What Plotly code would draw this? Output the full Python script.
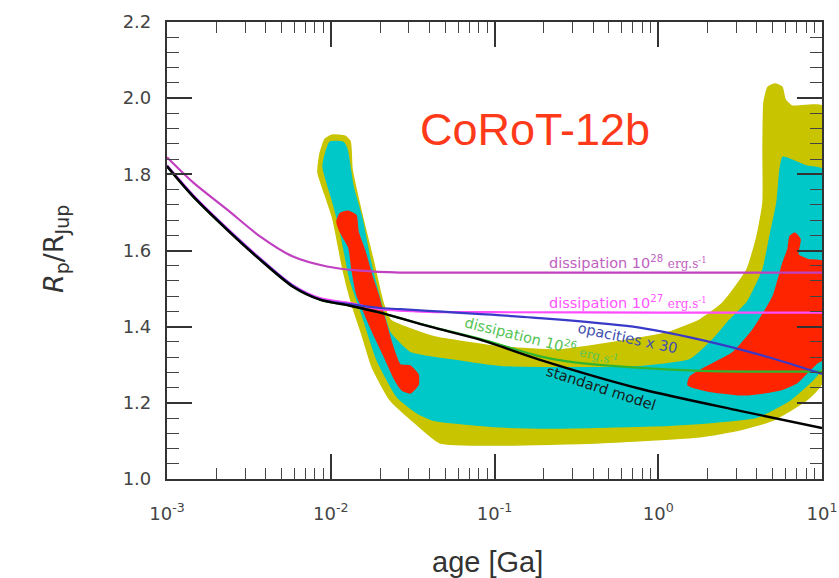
import numpy as np
import plotly.graph_objects as go

# ---------------- data (log10 age [Ga], radius [R_Jup]) ----------------
yellow_logage = [-2.035, -1.992, -1.913, -1.882, -1.870, -1.803, -1.742, -1.681, -1.638, -1.376,
                 -0.966, -0.600, -0.356, 0.053, 0.255, 0.395, 0.542, 0.603, 0.640, 0.640,
                 0.646, 0.670, 0.713, 0.756, 0.774, 0.817, 1.000, 1.000, 0.908, 0.701,
                 0.499, 0.255, -0.356, -0.966, -1.333, -1.485, -1.638, -1.748, -1.809, -1.870,
                 -1.925, -1.986, -2.035, -2.078, -2.066]
yellow_radius = [1.892, 1.903, 1.900, 1.887, 1.813, 1.682, 1.576, 1.463, 1.418, 1.374,
                 1.347, 1.339, 1.353, 1.384, 1.418, 1.463, 1.550, 1.637, 1.726, 1.866,
                 1.989, 2.029, 2.037, 2.029, 1.997, 1.979, 1.979, 1.253, 1.208, 1.155,
                 1.129, 1.111, 1.095, 1.089, 1.095, 1.147, 1.208, 1.295, 1.379, 1.458,
                 1.550, 1.682, 1.747, 1.805, 1.853]

cyan_logage = [-2.005, -1.925, -1.901, -1.864, -1.809, -1.760, -1.699, -1.638, -1.516, -1.272,
               -0.966, -0.600, -0.111, 0.194, 0.334, 0.438, 0.542, 0.640, 0.682, 0.725,
               0.744, 0.762, 0.847, 0.908, 1.000, 1.000, 0.945, 0.805, 0.603, 0.090,
               -0.600, -0.966, -1.376, -1.473, -1.595, -1.718, -1.809, -1.882, -1.943, -1.986,
               -2.047]
cyan_radius = [1.884, 1.884, 1.866, 1.768, 1.682, 1.576, 1.471, 1.384, 1.332, 1.313,
               1.295, 1.292, 1.295, 1.313, 1.366, 1.418, 1.463, 1.550, 1.637, 1.726,
               1.813, 1.845, 1.832, 1.821, 1.813, 1.295, 1.261, 1.208, 1.163, 1.142,
               1.134, 1.137, 1.155, 1.174, 1.216, 1.313, 1.432, 1.524, 1.655, 1.726,
               1.821]

red_young_logage = [-1.943, -1.895, -1.846, -1.834, -1.791, -1.748, -1.711, -1.669, -1.626, -1.577,
                    -1.516, -1.467, -1.467, -1.516, -1.565, -1.608, -1.669, -1.742, -1.803, -1.840,
                    -1.870, -1.889, -1.943, -1.962]
red_young_radius = [1.697, 1.703, 1.692, 1.650, 1.597, 1.532, 1.484, 1.418, 1.353, 1.300,
                    1.297, 1.274, 1.247, 1.226, 1.234, 1.261, 1.318, 1.384, 1.445, 1.484,
                    1.550, 1.608, 1.650, 1.676]

red_old_logage = [0.805, 0.835, 0.866, 0.853, 0.915, 1.000, 1.000, 0.970, 0.908, 0.847,
                  0.744, 0.603, 0.499, 0.298, 0.182, 0.194, 0.298, 0.457, 0.579, 0.701,
                  0.762, 0.792]
red_old_radius = [1.637, 1.645, 1.629, 1.589, 1.576, 1.571, 1.313, 1.305, 1.279, 1.253,
                  1.234, 1.224, 1.221, 1.232, 1.247, 1.268, 1.295, 1.332, 1.392, 1.479,
                  1.568, 1.603]

std_logage = [-3.000, -2.841, -2.634, -2.432, -2.231, -2.066, -1.882, -1.699, -1.394, -1.089,
              -0.722, -0.111, 0.499, 1.000]
std_radius = [1.821, 1.742, 1.655, 1.576, 1.505, 1.471, 1.455, 1.437, 1.400, 1.366,
              1.313, 1.237, 1.179, 1.134]

d28_logage = [-3.000, -2.841, -2.634, -2.432, -2.231, -2.023, -1.821, -1.577, -1.300, 0.000, 1.000]
d28_radius = [1.845, 1.779, 1.708, 1.637, 1.584, 1.558, 1.547, 1.542, 1.542, 1.542, 1.542]

d27_logage = [-3.000, -2.841, -2.634, -2.432, -2.231, -2.066, -1.882, -1.699, -1.400, -1.000, 0.000, 1.000]
d27_radius = [1.824, 1.746, 1.659, 1.580, 1.509, 1.475, 1.462, 1.446, 1.439, 1.438, 1.437, 1.437]

opac_logage = [-3.000, -2.841, -2.634, -2.432, -2.231, -2.066, -1.882, -1.699, -1.577, -0.765,
               -0.154, 0.255, 0.664, 1.000]
opac_radius = [1.822, 1.744, 1.657, 1.578, 1.507, 1.472, 1.459, 1.449, 1.446, 1.424,
               1.400, 1.366, 1.321, 1.276]

d26_logage = [-3.000, -2.841, -2.634, -2.432, -2.231, -2.066, -1.882, -1.699, -1.394, -1.089,
              -0.722, -0.557, -0.154, 0.255, 0.600, 1.000]
d26_radius = [1.821, 1.742, 1.655, 1.576, 1.505, 1.471, 1.455, 1.437, 1.401, 1.368,
              1.322, 1.309, 1.293, 1.284, 1.282, 1.282]

x_tickvals = [1e-3, 1e-2, 1e-1, 1e0, 1e1]
x_ticktext = ["10<sup>-3</sup>", "10<sup>-2</sup>", "10<sup>-1</sup>", "10<sup>0</sup>", "10<sup>1</sup>"]

def age(a):
    return 10 ** np.asarray(a, dtype=float)

YELLOW = "#c8c400"
CYAN = "#00c8c8"
RED = "#ff2400"

fig = go.Figure()

def region(lx, r, color):
    xs = list(age(lx)) + [age(lx)[0]]
    ys = list(r) + [r[0]]
    fig.add_trace(go.Scatter(x=xs, y=ys, mode="lines", fill="toself", fillcolor=color,
                             line=dict(width=1.5, color=color, shape="spline", smoothing=0.5),
                             hoverinfo="skip", showlegend=False))

region(yellow_logage, yellow_radius, YELLOW)
region(cyan_logage, cyan_radius, CYAN)
region(red_young_logage, red_young_radius, RED)
region(red_old_logage, red_old_radius, RED)

def curve(lx, r, color, w=2.2):
    fig.add_trace(go.Scatter(x=age(lx), y=r, mode="lines",
                             line=dict(color=color, width=w, shape="spline", smoothing=0.8),
                             hoverinfo="skip", showlegend=False))

curve(d28_logage, d28_radius, "#c040c0")
curve(d27_logage, d27_radius, "#ff4cff")
curve(d26_logage, d26_radius, "#2fb52f")
curve(opac_logage, opac_radius, "#3a3ac8")
curve(std_logage, std_radius, "#000000", 2.4)

lab_font = "DejaVu Sans"
small = "<span style='font-family:DejaVu Serif;font-size:12px'>erg.s<sup>-1</sup></span>"
annots = [
    dict(x=-0.19, y=1.571, text="dissipation 10<sup>28</sup> " + small,
         color="#c060c0", angle=0),
    dict(x=-0.19, y=1.466, text="dissipation 10<sup>27</sup> " + small,
         color="#ff55ff", angle=0),
    dict(x=-0.716, y=1.366, text="dissipation 10<sup>26</sup> " + small,
         color="#55c455", angle=14),
    dict(x=-0.19, y=1.371, text="opacities x 30", color="#4050b0", angle=12),
    dict(x=-0.35, y=1.239, text="standard model", color="#1a1a1a", angle=18),
]
for a in annots:
    fig.add_annotation(x=a["x"], y=a["y"], xref="x", yref="y", text=a["text"],
                       showarrow=False, textangle=a["angle"],
                       xanchor="center", yanchor="middle",
                       font=dict(family=lab_font, size=14.5, color=a["color"]))

fig.add_annotation(x=(535 - 167) / 655, y=(479 - 129) / 457, xref="paper", yref="paper",
                   text="CoRoT-12b", showarrow=False, xanchor="center", yanchor="middle",
                   font=dict(family="Liberation Sans", size=45, color="#ff3a1a"))

# axis titles
fig.add_annotation(x=(487 - 167) / 655, y=0, xref="paper", yref="paper", yshift=-83,
                   text="age [Ga]", showarrow=False, xanchor="center", yanchor="middle",
                   font=dict(family="Liberation Sans", size=29, color="#333333"))
fig.add_annotation(x=0, y=(479 - 249) / 457, xref="paper", yref="paper", xshift=-112,
                   text="<i>R</i><sub>p</sub>/R<sub>Jup</sub>", showarrow=False,
                   textangle=-90, xanchor="center", yanchor="middle",
                   font=dict(family="DejaVu Sans", size=27, color="#333333"))

minor_x = [m * 10.0 ** e for e in range(-3, 1) for m in range(2, 10)]

axis_common = dict(showgrid=False, zeroline=False, showline=True, linewidth=2.2,
                   linecolor="#333333", mirror="ticks", ticks="inside", ticklen=25,
                   tickwidth=1.8, tickcolor="#333333", automargin=False,
                   tickfont=dict(family="DejaVu Sans", size=18, color="#444444"))

fig.update_xaxes(type="log", range=[-3, 1], tickmode="array", tickvals=x_tickvals,
                 ticktext=x_ticktext, ticklabelstandoff=17,
                 minor=dict(tickmode="array", tickvals=minor_x, ticks="inside", ticklen=11,
                            tickwidth=1.4, tickcolor="#444444", showgrid=False),
                 **axis_common)
fig.update_yaxes(range=[1.0, 2.2], dtick=0.2, tick0=1.0, tickformat=".1f",
                 ticklabelstandoff=10,
                 minor=dict(dtick=0.04, ticks="inside", ticklen=12, tickwidth=1.4,
                            tickcolor="#444444", showgrid=False),
                 **axis_common)

fig.update_layout(width=839, height=578, margin=dict(l=167, r=17, t=22, b=99),
                  paper_bgcolor="white", plot_bgcolor="white", showlegend=False)

fig.write_html("out.html")
